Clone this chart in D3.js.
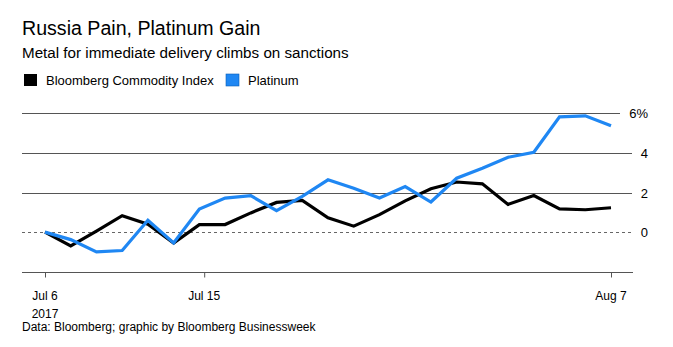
<!DOCTYPE html>
<html>
<head>
<meta charset="utf-8">
<script src="https://cdn.jsdelivr.net/npm/d3@7"></script>
<style>
  html, body { margin: 0; padding: 0; background: #fff; }
  svg { display: block; font-family: "Liberation Sans", Arial, sans-serif; }
</style>
</head>
<body>
<svg id="chart" width="673" height="347"></svg>
<script>
// ---- Data ----
const startDate = "2017-07-06";
const endDate = "2017-08-07";
const tickDates = ["2017-07-06", "2017-07-15", "2017-08-07"];
const tickLabels = ["Jul 6", "Jul 15", "Aug 7"];
const yTicks = [0, 2, 4, 6];
const commodityIndex = [0, -0.7, 0.05, 0.83, 0.4, -0.55, 0.38, 0.38, 0.97, 1.5, 1.6, 0.72, 0.3, 0.88, 1.58, 2.19, 2.53, 2.44, 1.4, 1.85, 1.17, 1.13, 1.23];
const platinum = [0, -0.38, -1.0, -0.93, 0.6, -0.55, 1.17, 1.72, 1.84, 1.08, 1.8, 2.64, 2.22, 1.72, 2.3, 1.52, 2.72, 3.22, 3.78, 4.03, 5.82, 5.87, 5.37];
const seriesNames = ["Bloomberg Commodity Index", "Platinum"];
const seriesColors = ["#000000", "#1f87f3"];

// ---- Layout ----
const svg = d3.select("#chart");
const left = 22, right = 633;
const xStart = 45, xEnd = 611;
const parse = d3.timeParse("%Y-%m-%d");

const xTime = d3.scaleTime().domain([parse(startDate), parse(endDate)]).range([xStart, xEnd]);
const xIdx = d3.scaleLinear().domain([0, commodityIndex.length - 1]).range([xStart, xEnd]);
const y = d3.scaleLinear().domain([-2, 6]).range([271.7, 113.3]);

// Title
svg.append("text").attr("x", 22).attr("y", 35).attr("font-size", 19.6).attr("fill", "#000")
  .text("Russia Pain, Platinum Gain");
svg.append("text").attr("x", 22).attr("y", 57.5).attr("font-size", 15.2).attr("fill", "#000")
  .text("Metal for immediate delivery climbs on sanctions");

// Legend
const legendX = [24, 226];
seriesNames.forEach((n, i) => {
  svg.append("rect").attr("x", legendX[i]).attr("y", 74).attr("width", 13).attr("height", 12)
    .attr("fill", seriesColors[i]).attr("stroke", i === 1 ? "#0d5fb5" : "none").attr("stroke-width", 0.6);
  svg.append("text").attr("x", legendX[i] + 22).attr("y", 84.5).attr("font-size", 13).attr("fill", "#000").text(n);
});

// Gridlines
yTicks.forEach(t => {
  const gy = Math.round(y(t)) + 0.5;
  const endX = t === 6 ? 620 : 632;
  svg.append("line").attr("x1", left).attr("x2", endX).attr("y1", gy).attr("y2", gy)
    .attr("stroke", t === 0 ? "#666" : "#555").attr("stroke-width", 1)
    .attr("stroke-dasharray", t === 0 ? "3,3" : null);
  svg.append("text").attr("x", 648).attr("y", gy + 4.5).attr("text-anchor", "end")
    .attr("font-size", 13).attr("fill", "#000").text(t === 6 ? "6%" : String(t));
});

// X axis
const axisY = Math.round(y(-2)) + 0.5;
svg.append("line").attr("x1", left).attr("x2", right).attr("y1", axisY).attr("y2", axisY)
  .attr("stroke", "#555").attr("stroke-width", 1);
const xAxis = d3.axisBottom(xTime).tickValues(tickDates.map(parse)).tickSize(5).tickPadding(0)
  .tickFormat(() => "");
const gAxis = svg.append("g").attr("transform", `translate(0,${axisY})`).call(xAxis);
gAxis.select(".domain").remove();
gAxis.selectAll(".tick line").attr("stroke", "#555");
tickDates.forEach((d, i) => {
  svg.append("text").attr("x", xTime(parse(d))).attr("y", 300).attr("text-anchor", "middle")
    .attr("font-size", 12).attr("fill", "#000").text(tickLabels[i]);
});
svg.append("text").attr("x", xTime(parse(tickDates[0]))).attr("y", 318).attr("text-anchor", "middle")
  .attr("font-size", 12).attr("fill", "#000").text("2017");

// Lines
const line = d3.line().x((d, i) => xIdx(i)).y(d => y(d));
[commodityIndex, platinum].forEach((s, i) => {
  svg.append("path").datum(s).attr("d", line).attr("fill", "none")
    .attr("stroke", seriesColors[i]).attr("stroke-width", 3.2).attr("stroke-linejoin", "miter");
});

// Source
svg.append("text").attr("x", 22).attr("y", 331).attr("font-size", 12).attr("fill", "#000")
  .text("Data: Bloomberg; graphic by Bloomberg Businessweek");
</script>
</body>
</html>
